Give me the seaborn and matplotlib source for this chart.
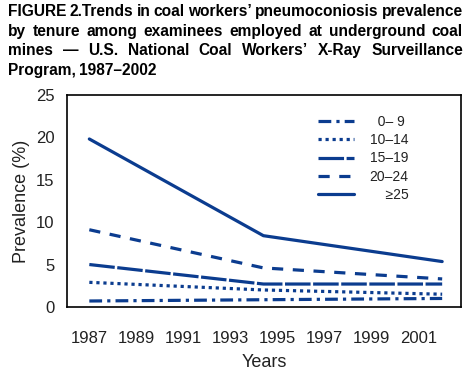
import numpy as np
import matplotlib
matplotlib.use("Agg")
import matplotlib.pyplot as plt
import pandas as pd
import seaborn as sns

# Data
years = [1987, 1994.4, 2002]
tenure_labels = ["\u20070\u2013 9", "10\u201314", "15\u201319", "20\u201324", "\u2007\u2007\u226525"]
prev_0_9 = [0.7, 0.85, 1.0]
prev_10_14 = [2.9, 2.0, 1.5]
prev_15_19 = [5.0, 2.7, 2.7]
prev_20_24 = [9.1, 4.6, 3.3]
prev_25 = [19.8, 8.4, 5.35]

xticks = list(range(1987, 2003))
xticklabels = [str(y) if (y - 1987) % 2 == 0 else "" for y in xticks]

sns.set_style("white")
plt.rcParams["font.family"] = ["Liberation Sans", "DejaVu Sans"]

blue = "#0b3c8f"
styles = [(0, (4, 1.6, 1, 1.6)), (0, (1, 1.2)), (0, (8, 0.8)), (0, (3.5, 3)), "-"]
series = [prev_0_9, prev_10_14, prev_15_19, prev_20_24, prev_25]

fig = plt.figure(figsize=(4.75, 3.78), dpi=100)
ax = fig.add_axes([0.141, 0.188, 0.8295, 0.561])

for lab, vals, ls in zip(tenure_labels, series, styles):
    df = pd.DataFrame({"year": years, "prev": vals})
    sns.lineplot(data=df, x="year", y="prev", ax=ax, color=blue, lw=2.3,
                 linestyle=ls, label=lab)

ax.set_xlim(1986.05, 2002.8)
ax.set_ylim(0, 25)
ax.set_xticks(xticks)
ax.set_xticklabels(xticklabels)
ax.set_yticks([0, 5, 10, 15, 20, 25])
ax.tick_params(axis="both", direction="out", length=6, width=1, color="black",
               labelsize=12, labelcolor="#222222", pad=11)
ax.tick_params(axis="y", pad=3)
for s in ax.spines.values():
    s.set_color("black")
    s.set_linewidth(1.2)
ax.set_xlabel("Years", fontsize=13, color="#222222", labelpad=6)
ax.set_ylabel("Prevalence (%)", fontsize=13, color="#222222", labelpad=4)

leg = ax.legend(loc="upper right", bbox_to_anchor=(0.885, 0.94), frameon=False,
                fontsize=10, handlelength=2.6, handletextpad=1.1,
                labelspacing=0.32, borderpad=0)
for t in leg.get_texts():
    t.set_color("#222222")

# title, justified by hand on the first three lines
title = ["FIGURE 2.Trends in coal workers\u2019 pneumoconiosis prevalence",
         "by tenure among examinees employed at underground coal",
         "mines \u2014 U.S. National Coal Workers\u2019 X-Ray Surveillance",
         "Program, 1987\u20132002"]
x0, x1 = 8, 463
renderer = fig.canvas.get_renderer()
for i, line in enumerate(title):
    ybase = 1 - (16 + i * 19.7) / 378
    words = line.split(" ")
    txts = [fig.text(0, ybase, w, fontsize=11.2, fontweight="bold", va="baseline",
                     ha="left", color="black") for w in words]
    widths = [t.get_window_extent(renderer).width for t in txts]
    if i < 3:
        gap = (x1 - x0 - sum(widths)) / (len(words) - 1)
    else:
        gap = 3.2
    x = x0
    for t, w in zip(txts, widths):
        t.set_x(x / 475)
        x += w + gap

fig.savefig("out.png", dpi=100)
